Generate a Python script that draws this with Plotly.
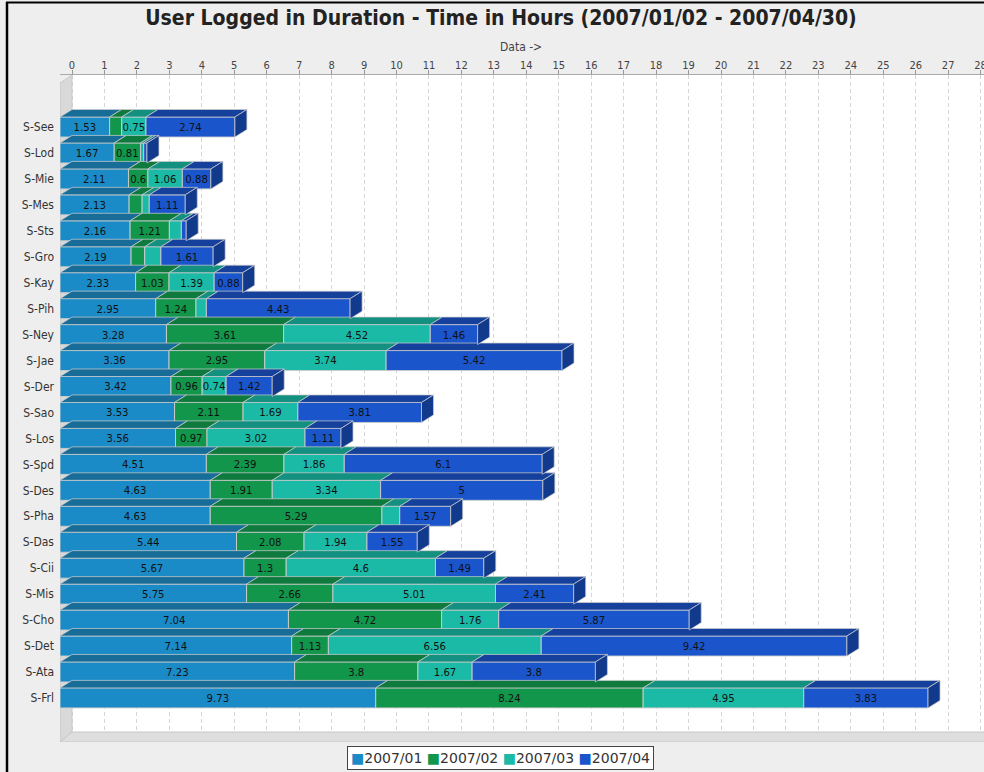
import plotly.graph_objects as go

# ---------------- data ----------------
users = ["S-See", "S-Lod", "S-Mie", "S-Mes", "S-Sts", "S-Gro", "S-Kay", "S-Pih",
         "S-Ney", "S-Jae", "S-Der", "S-Sao", "S-Los", "S-Spd", "S-Des", "S-Pha",
         "S-Das", "S-Cii", "S-Mis", "S-Cho", "S-Det", "S-Ata", "S-Frl"]
series_names = ["2007/01", "2007/02", "2007/03", "2007/04"]
jan = [1.53, 1.67, 2.11, 2.13, 2.16, 2.19, 2.33, 2.95, 3.28, 3.36, 3.42, 3.53,
       3.56, 4.51, 4.63, 4.63, 5.44, 5.67, 5.75, 7.04, 7.14, 7.23, 9.73]
feb = [0.37, 0.81, 0.6, 0.40, 1.21, 0.42, 1.03, 1.24, 3.61, 2.95, 0.96, 2.11,
       0.97, 2.39, 1.91, 5.29, 2.08, 1.3, 2.66, 4.72, 1.13, 3.8, 8.24]
mar = [0.75, 0.10, 1.06, 0.22, 0.37, 0.50, 1.39, 0.32, 4.52, 3.74, 0.74, 1.69,
       3.02, 1.86, 3.34, 0.55, 1.94, 4.6, 5.01, 1.76, 6.56, 1.67, 4.95]
apr = [2.74, 0.10, 0.88, 1.11, 0.15, 1.61, 0.88, 4.43, 1.46, 5.42, 1.42, 3.81,
       1.11, 6.1, 5.0, 1.57, 1.55, 1.49, 2.41, 5.87, 9.42, 3.8, 3.83]
x_ticks = list(range(0, 29))

title_text = "User Logged in Duration - Time in Hours (2007/01/02 - 2007/04/30)"
axis_title = "Data ->"

# ---------------- style ----------------
FRONT = ["#1b8bc8", "#12964b", "#1bbaa6", "#1a55cc"]
TOP = ["#176d98", "#0f7a3d", "#13907f", "#15409c"]
SIDE = "#123a8c"
EDGE = "rgba(205,205,205,0.9)"
COND = "DejaVu Sans Condensed, Liberation Sans Narrow, Arial Narrow, sans-serif"
REG = "DejaVu Sans, sans-serif"

W, H = 984, 772
ML, MR, MT, MB = 60, 0, 75, 30
PX_UNIT = 32.45          # pixels per hour
PX_ROW = 25.95           # pixels per category row
FIRST_ROW_PX = 127       # pixel centre of first row front face
DX = 12 / PX_UNIT        # 3D depth in x units
DY = 7.5 / PX_ROW        # 3D depth in row units (bars)
BAR_W = 20 / PX_ROW

plot_w = W - ML - MR
plot_h = H - MT - MB
x_lo = -DX
x_hi = x_lo + plot_w / PX_UNIT
y_top = -(FIRST_ROW_PX - MT) / PX_ROW
y_bot = y_top + plot_h / PX_ROW
WALL_DY = 10 / PX_ROW
y_back_bottom = y_bot - WALL_DY


def px_x(p):  # pixel -> paper x
    return (p - ML) / plot_w


def px_y(p):  # pixel -> paper y
    return (H - MB - p) / plot_h


series = [jan, feb, mar, apr]
rows = list(range(len(users)))

fig = go.Figure()

starts = []
cum = [0.0] * len(users)
for vals in series:
    starts.append(list(cum))
    cum = [c + v for c, v in zip(cum, vals)]
totals = cum

# top faces
for s, vals in enumerate(series):
    xs, ys = [], []
    for i in rows:
        a = starts[s][i]
        b = a + vals[i]
        yf = i - BAR_W / 2
        yb = yf - DY
        xs += [a - DX, a, b, b - DX, a - DX, None]
        ys += [yf, yb, yb, yf, yf, None]
    fig.add_trace(go.Scatter(x=xs, y=ys, mode="lines", fill="toself",
                             fillcolor=TOP[s], line=dict(color=EDGE, width=0.8),
                             showlegend=False, hoverinfo="skip"))

# side faces (right end of last segment)
xs, ys = [], []
for i in rows:
    b = totals[i]
    yf_top = i - BAR_W / 2
    yf_bot = i + BAR_W / 2
    xs += [b - DX, b, b, b - DX, b - DX, None]
    ys += [yf_top, yf_top - DY, yf_bot - DY, yf_bot, yf_top, None]
fig.add_trace(go.Scatter(x=xs, y=ys, mode="lines", fill="toself",
                         fillcolor=SIDE, line=dict(color=EDGE, width=0.8),
                         showlegend=False, hoverinfo="skip"))

# front faces
for s, vals in enumerate(series):
    labels = [f"{v:g}" if v >= 0.6 else "" for v in vals]
    fig.add_trace(go.Bar(
        name=series_names[s], orientation="h", y=rows, x=vals,
        base=[a - DX for a in starts[s]], width=BAR_W,
        marker=dict(color=FRONT[s], line=dict(color=EDGE, width=1)),
        text=labels, textposition="inside", insidetextanchor="middle",
        textangle=0, textfont=dict(color="#111111", size=11.5, family=COND),
        showlegend=False, hoverinfo="skip"))

# walls + frame
shapes = [
    dict(type="rect", xref="x", yref="y", x0=0, x1=x_hi, y0=y_top, y1=y_back_bottom,
         fillcolor="white", line=dict(width=0), layer="below"),
    dict(type="path", xref="x", yref="y",
         path=f"M {-DX},{y_top + 8 / PX_ROW} L 0,{y_top} L 0,{y_back_bottom} L {-DX},{y_bot} Z",
         fillcolor="#d9d9d9", line=dict(color="#c8c8c8", width=1), layer="between"),
    dict(type="path", xref="x", yref="y",
         path=f"M {-DX},{y_bot} L 0,{y_back_bottom} L {x_hi + 1},{y_back_bottom} L {x_hi + 1 - DX},{y_bot} Z",
         fillcolor="#dedede", line=dict(color="#c8c8c8", width=1), layer="between"),
    dict(type="line", xref="paper", yref="paper",
         x0=px_x(7), x1=px_x(7), y0=px_y(2), y1=px_y(H + 5),
         line=dict(color="black", width=2.5)),
    dict(type="line", xref="paper", yref="paper",
         x0=px_x(6), x1=px_x(W + 5), y0=px_y(2.5), y1=px_y(2.5),
         line=dict(color="black", width=2)),
]

# legend built as one text box
legend_text = "&nbsp;".join(
    f"<span style='color:{FRONT[s]}'>■</span>{series_names[s]}" for s in range(4))

fig.update_layout(
    width=W, height=H,
    margin=dict(l=ML, r=MR, t=MT, b=MB, pad=0, autoexpand=False),
    paper_bgcolor="#eeeeee", plot_bgcolor="#eeeeee",
    barmode="overlay",
    uniformtext=dict(minsize=11, mode="show"),
    shapes=shapes,
    title=dict(text=f"<b>{title_text}</b>", x=501 / W, xanchor="center",
               xref="container", yref="container", y=1 - 18 / H, yanchor="middle",
               font=dict(family=COND, size=21, color="#222222")),
    xaxis=dict(side="top", range=[x_lo, x_hi], tickmode="array", tickvals=x_ticks,
               ticktext=[str(t) for t in x_ticks], ticks="outside", ticklen=4,
               tickcolor="#999999", showline=True, linecolor="#aaaaaa", linewidth=1,
               showgrid=True, gridcolor="#d6d6d6", griddash="4px,3px", gridwidth=1,
               zeroline=False, automargin=False, ticklabeloverflow="allow",
               ticklabelstandoff=-3,
               tickfont=dict(family=COND, size=11, color="#444444"),
               fixedrange=True),
    yaxis=dict(range=[y_bot, y_top], tickmode="array", tickvals=rows, ticktext=users,
               showgrid=False, zeroline=False, showline=False, ticks="",
               ticklabelstandoff=5, automargin=False,
               tickfont=dict(family=COND, size=12, color="#333333"), fixedrange=True),
    showlegend=False,
    annotations=[
        dict(text=axis_title, xref="paper", yref="paper",
             x=px_x(521), y=px_y(47), showarrow=False, xanchor="center",
             yanchor="middle", font=dict(family=COND, size=12, color="#444444")),
        dict(text=legend_text, xref="paper", yref="paper",
             x=px_x(500), y=px_y(758), showarrow=False, xanchor="center",
             yanchor="middle", bgcolor="white", bordercolor="#444444",
             borderwidth=1, borderpad=3,
             font=dict(family=REG, size=14, color="#333333")),
    ],
)

fig.write_html(
    "out.html",
    config={"displayModeBar": False},
    post_script="document.body.style.margin='0';document.body.style.overflow='hidden';",
)
